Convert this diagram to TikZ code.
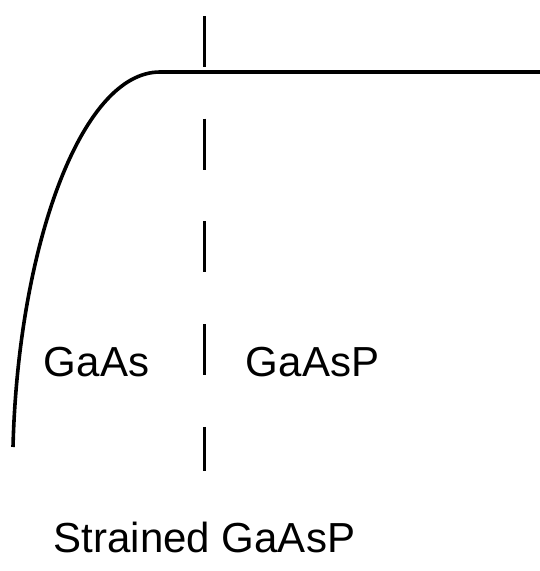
\documentclass[tikz,border=0pt]{standalone}
\usepackage{fontspec}
\setmainfont{Liberation Sans}
\usepackage{tikz}
\usetikzlibrary{calc,positioning}

\begin{document}
\begin{tikzpicture}[x=1pt,y=-1pt,
  layerlabel/.style={anchor=base,inner sep=0pt,font=\fontsize{42}{42}\selectfont}]
  \useasboundingbox (0,0) rectangle (540,571);

  % band edge coordinates
  \coordinate (bottom) at (13,447);
  \coordinate (knee) at (160,72);
  \coordinate (right) at (540,72);
  \coordinate (top) at (204.5,16);
  \coordinate (base) at (204.5,471);

  % Band edge
  \draw[line width=3.6pt] (bottom) .. controls (18,250) and (80,72) .. (knee) -- (right);

  % Interface
  \draw[line width=3.6pt,dash pattern=on 51pt off 51.7pt] (top) -- (base);

  % Labels
  \node[layerlabel] (gaas) at (96.5,376) {GaAs};
  \node[layerlabel] (gaasp) at (312.5,376) {GaAsP};
  \node[layerlabel] (strained) at (204.5,552) {Strained GaAsP};
\end{tikzpicture}
\end{document}
